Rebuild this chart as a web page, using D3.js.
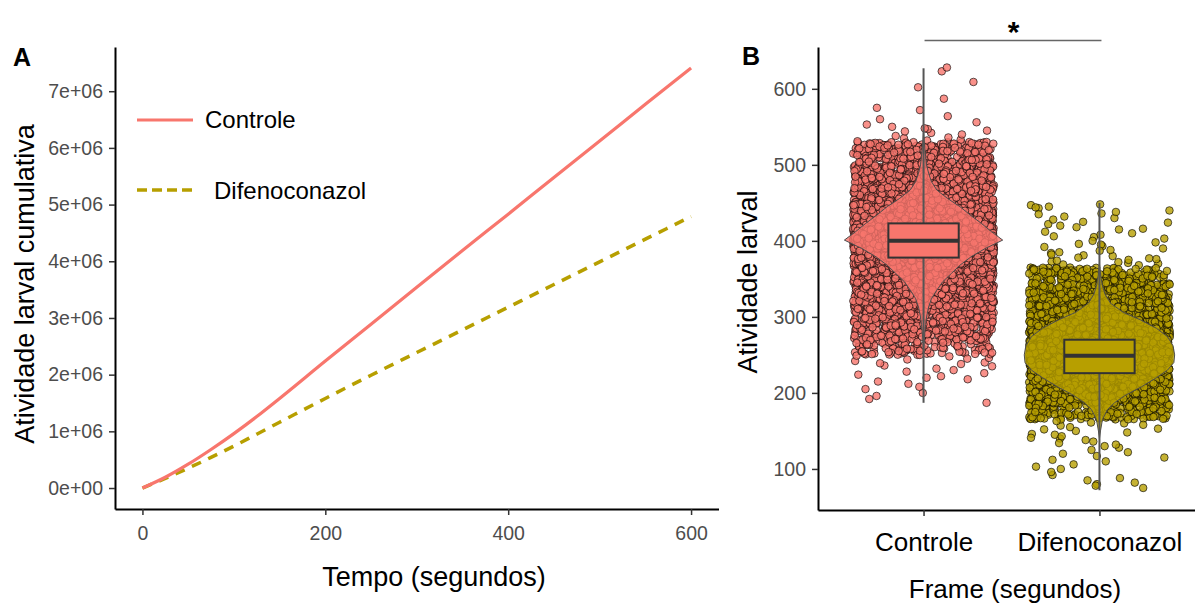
<!DOCTYPE html>
<html>
<head>
<meta charset="utf-8">
<script src="https://cdn.jsdelivr.net/npm/d3@7/dist/d3.min.js"></script>
<style>
    body { margin: 0; background: #fff; }
    svg text { font-family: "Liberation Sans", Arial, sans-serif; }
</style>
</head>
<body>
<div id="chart"></div>
<script>
// ---- panel A data: cumulative larval activity (values in 1e6) ----
const tempo = [0, 25, 50, 75, 100, 125, 150, 200, 250, 300, 350, 400, 450, 500, 550, 600];
const controleCum = [0, 0.19, 0.42, 0.68, 0.96, 1.26, 1.58, 2.24, 2.89, 3.54, 4.19, 4.83, 5.48, 6.12, 6.77, 7.41];
const difenCum = [0, 0.17, 0.35, 0.54, 0.74, 0.95, 1.16, 1.58, 1.99, 2.39, 2.79, 3.19, 3.59, 3.99, 4.39, 4.79];
const yTicksA = [0, 1, 2, 3, 4, 5, 6, 7];
const xTicksA = [0, 200, 400, 600];

// ---- panel B data ----
const grupos = ["Controle", "Difenoconazol"];
const cores = ["#F8766D", "#B79F00"];

// dense part of the jitter cloud: bin lower edge (width 20) and point count
const binsControle = [250, 270, 290, 310, 330, 350, 370, 390, 410, 430, 450, 470, 490, 510];
const countsControle = [100, 170, 230, 300, 380, 500, 700, 950, 820, 580, 430, 330, 250, 160];
const binsDifen = [165, 185, 205, 225, 245, 265, 285, 305, 325, 345];
const countsDifen = [160, 300, 520, 780, 820, 640, 430, 300, 220, 160];

// sparse points outside the dense cloud
const extraControle = [628, 623, 609, 602, 587, 575, 572, 564, 560, 556, 553, 550, 548, 547, 545, 544,
    542, 540, 538, 536, 535, 533, 532, 531, 530,
    252, 250, 249, 248, 246, 245, 244, 242, 240, 239, 238, 236, 235, 232, 230, 228, 226, 224, 222,
    220, 218, 215, 212, 208, 205, 200, 196, 192, 187];
const extraDifen = [448, 447, 445, 444, 443, 440, 438, 436, 435, 432, 430, 428, 425, 424, 422, 420,
    418, 416, 415, 412, 410, 408, 406, 405, 403, 400, 398, 396, 395, 393, 392, 390, 388, 387, 385,
    384, 382, 381, 380, 378, 377, 376, 375, 374, 373, 372, 371, 370, 369, 368,
    163, 161, 160, 158, 157, 155, 153, 152, 150, 148, 146, 145, 143, 141, 140, 138, 136, 134, 132,
    130, 128, 125, 122, 120, 117, 115, 112, 110, 106, 103, 100, 96, 92, 88, 85, 82, 80, 78, 75];

// violin outlines: value and relative half width
const violinControleY = [545, 530, 511, 500, 489, 478, 467, 456, 445, 434, 423, 412, 401, 390, 379, 368,
    357, 346, 335, 324, 313, 300, 290, 270, 250];
const violinControleW = [0, 0.009, 0.026, 0.038, 0.064, 0.10, 0.167, 0.30, 0.46, 0.59, 0.73, 0.86, 1,
    0.78, 0.60, 0.46, 0.35, 0.24, 0.167, 0.10, 0.064, 0.038, 0.026, 0.008, 0];
const violinDifenY = [370, 355, 342, 330, 318, 306, 296, 285, 274, 262, 250, 240, 230, 220, 208,
    197, 187, 178, 165, 150, 140];
const violinDifenW = [0, 0.015, 0.035, 0.07, 0.14, 0.30, 0.52, 0.72, 0.86, 0.93, 0.95, 0.94,
    0.86, 0.72, 0.53, 0.33, 0.19, 0.10, 0.038, 0.013, 0];

// boxplots: min, q1, median, q3, max
const boxControle = [187, 378, 400, 423, 627];
const boxDifen = [72, 226, 249, 270, 450];
const yTicksB = [100, 200, 300, 400, 500, 600];

const W = 1195, H = 606;
const svg = d3.select("#chart").append("svg")
    .attr("width", W)
    .attr("height", H);

const tickGrey = "#4D4D4D";

// ================= panel A =================
const xA = d3.scaleLinear().domain([-30, 630]).range([115, 718.5]);
const yA = d3.scaleLinear().domain([-0.37, 7.78]).range([509, 47]);

let gA = svg.append("g");

let axA_x = gA.append("g")
    .attr("transform", "translate(0,509)")
    .call(d3.axisBottom(xA).tickValues(xTicksA).tickSize(6).tickPadding(11).tickSizeOuter(0));
let axA_y = gA.append("g")
    .attr("transform", "translate(115,0)")
    .call(d3.axisLeft(yA).tickValues(yTicksA).tickSize(6).tickPadding(6).tickSizeOuter(0)
        .tickFormat(d => d === 0 ? "0e+00" : d + "e+06"));

[axA_x, axA_y].forEach(ax => {
    ax.select(".domain").attr("stroke", "#000").attr("stroke-width", 2);
    ax.selectAll(".tick line").attr("stroke", "#333").attr("stroke-width", 1.5);
    ax.selectAll(".tick text").attr("fill", tickGrey).style("font-size", "19.5px");
});

let lineA = d3.line()
    .x((d, i) => xA(tempo[i]))
    .y(d => yA(d))
    .curve(d3.curveMonotoneX);

gA.append("path")
    .datum(difenCum)
    .attr("d", lineA)
    .attr("fill", "none")
    .attr("stroke", cores[1])
    .attr("stroke-width", 3.5)
    .attr("stroke-dasharray", "10,8");

gA.append("path")
    .datum(controleCum)
    .attr("d", lineA)
    .attr("fill", "none")
    .attr("stroke", cores[0])
    .attr("stroke-width", 3.2);

// legend
gA.append("line")
    .attr("x1", 137).attr("x2", 193).attr("y1", 120).attr("y2", 120)
    .attr("stroke", cores[0]).attr("stroke-width", 3.2);
gA.append("text")
    .attr("x", 205).attr("y", 128)
    .style("font-size", "24px")
    .text("Controle");
gA.append("line")
    .attr("x1", 137).attr("x2", 196).attr("y1", 190).attr("y2", 190)
    .attr("stroke", cores[1]).attr("stroke-width", 3.5)
    .attr("stroke-dasharray", "10,5");
gA.append("text")
    .attr("x", 214).attr("y", 199)
    .style("font-size", "24px")
    .text("Difenoconazol");

// titles
gA.append("text")
    .attr("x", 434).attr("y", 586)
    .attr("text-anchor", "middle")
    .style("font-size", "27px")
    .text("Tempo (segundos)");
gA.append("text")
    .attr("transform", "translate(34,284) rotate(-90)")
    .attr("text-anchor", "middle")
    .style("font-size", "27px")
    .text("Atividade larval cumulativa");
gA.append("text")
    .attr("x", 13).attr("y", 66)
    .style("font-size", "25px")
    .style("font-weight", "bold")
    .text("A");

// ================= panel B =================
const xB = d3.scaleLinear().domain([-0.6, 1.6]).range([818, 1205]);
const yB = d3.scaleLinear().domain([46, 655]).range([510, 47]);
const unit = xB(1) - xB(0);

let gB = svg.append("g");

let axB_x = gB.append("g")
    .attr("transform", "translate(0,510)")
    .call(d3.axisBottom(xB).tickValues([0, 1]).tickSize(6).tickPadding(17).tickSizeOuter(0)
        .tickFormat(i => grupos[i]));
let axB_y = gB.append("g")
    .attr("transform", "translate(818,0)")
    .call(d3.axisLeft(yB).tickValues(yTicksB).tickSize(6).tickPadding(6).tickSizeOuter(0));

axB_x.selectAll(".tick text").attr("fill", "#000").style("font-size", "26px");
axB_y.selectAll(".tick text").attr("fill", tickGrey).style("font-size", "19.5px");
[axB_x, axB_y].forEach(ax => {
    ax.select(".domain").attr("stroke", "#000").attr("stroke-width", 2);
    ax.selectAll(".tick line").attr("stroke", "#333").attr("stroke-width", 1.5);
});

// horizontal jitter offset in [-1, 1] (fixed integer hash instead of random jitter)
function jitter(k) {
    let x = Math.imul(k ^ 0x9e3779b9, 0x85ebca6b);
    x ^= x >>> 13;
    x = Math.imul(x, 0xc2b2ae35);
    x ^= x >>> 16;
    return (x >>> 0) / 4294967296 * 2 - 1;
}

function pointsFor(bins, counts, extra, seed) {
    let pts = [];
    let k = seed;
    bins.forEach((lo, b) => {
        for (let j = 0; j < counts[b]; j++) {
            k++;
            pts.push({off: jitter(k), val: lo + (j + 0.5) / counts[b] * 20, o: jitter(k + 777777)});
        }
    });
    extra.forEach(val => {
        k++;
        pts.push({off: jitter(k), val: val, o: jitter(k + 777777)});
    });
    // draw order mixed so the cloud does not layer bin by bin
    pts.sort((a, b) => a.o - b.o);
    return pts;
}

const nuvens = [
    pointsFor(binsControle, countsControle, extraControle, 1000),
    pointsFor(binsDifen, countsDifen, extraDifen, 50000)
];

nuvens.forEach((pts, g) => {
    gB.append("g")
        .selectAll("circle")
        .data(pts)
        .enter()
        .append("circle")
        .attr("cx", d => xB(g) + d.off * 0.4 * unit)
        .attr("cy", d => yB(d.val))
        .attr("r", 3.8)
        .attr("fill", cores[g])
        .attr("fill-opacity", 0.8)
        .attr("stroke", "#000")
        .attr("stroke-opacity", 0.7)
        .attr("stroke-width", 0.9);
});

// violins
const violins = [
    [violinControleY, violinControleW],
    [violinDifenY, violinDifenW]
];
violins.forEach((v, g) => {
    let area = d3.area()
        .y((d, i) => yB(v[0][i]))
        .x0(d => xB(g) - d * 0.45 * unit)
        .x1(d => xB(g) + d * 0.45 * unit)
        .curve(d3.curveLinear);
    gB.append("path")
        .datum(v[1])
        .attr("d", area)
        .attr("fill", cores[g])
        .attr("fill-opacity", 0.8)
        .attr("stroke", "#4d4d4d")
        .attr("stroke-width", 1);
});

// boxplots
[boxControle, boxDifen].forEach((b, g) => {
    let cx = xB(g), hw = 0.2 * unit;
    gB.append("line")
        .attr("x1", cx).attr("x2", cx)
        .attr("y1", yB(b[4])).attr("y2", yB(b[3]))
        .attr("stroke", "#555").attr("stroke-width", 2);
    gB.append("line")
        .attr("x1", cx).attr("x2", cx)
        .attr("y1", yB(b[1])).attr("y2", yB(b[0]))
        .attr("stroke", "#555").attr("stroke-width", 2);
    gB.append("rect")
        .attr("x", cx - hw).attr("width", 2 * hw)
        .attr("y", yB(b[3])).attr("height", yB(b[1]) - yB(b[3]))
        .attr("fill", cores[g])
        .attr("stroke", "#333")
        .attr("stroke-width", 2);
    gB.append("line")
        .attr("x1", cx - hw).attr("x2", cx + hw)
        .attr("y1", yB(b[2])).attr("y2", yB(b[2]))
        .attr("stroke", "#333").attr("stroke-width", 4);
});

// significance bar
gB.append("line")
    .attr("x1", xB(0) + 1).attr("x2", xB(1) + 2)
    .attr("y1", 40.5).attr("y2", 40.5)
    .attr("stroke", "#666").attr("stroke-width", 1.5);
gB.append("text")
    .attr("x", (xB(0) + xB(1)) / 2 + 2).attr("y", 42)
    .attr("text-anchor", "middle")
    .style("font-size", "30px")
    .style("font-weight", "bold")
    .text("*");

// titles
gB.append("text")
    .attr("x", 1015).attr("y", 598)
    .attr("text-anchor", "middle")
    .style("font-size", "26px")
    .text("Frame (segundos)");
gB.append("text")
    .attr("transform", "translate(757,282) rotate(-90)")
    .attr("text-anchor", "middle")
    .style("font-size", "27px")
    .text("Atividade larval");
gB.append("text")
    .attr("x", 742).attr("y", 65)
    .style("font-size", "25px")
    .style("font-weight", "bold")
    .text("B");
</script>
</body>
</html>
